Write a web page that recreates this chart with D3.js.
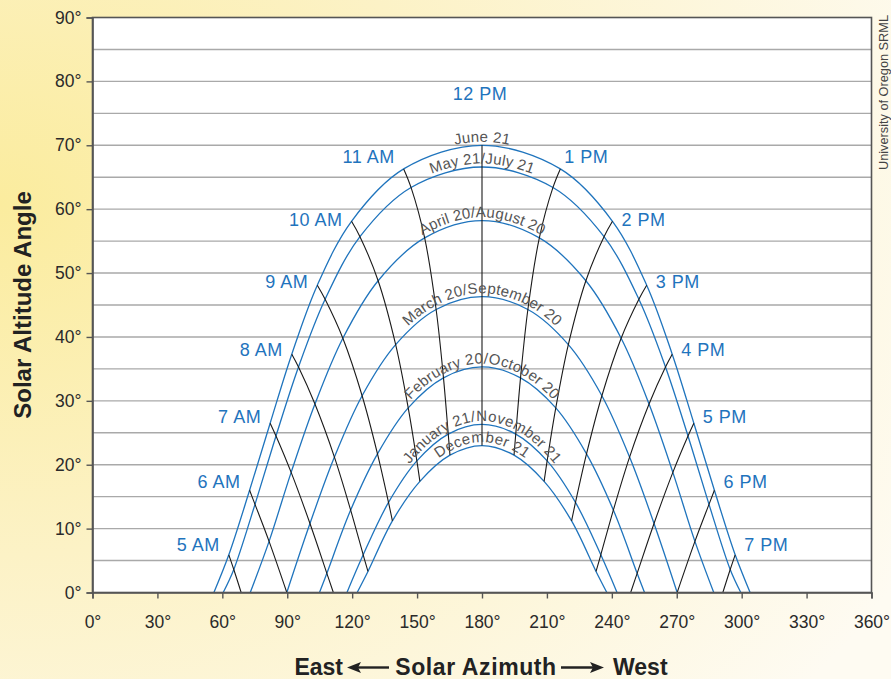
<!DOCTYPE html>
<html><head><meta charset="utf-8">
<script src="https://cdn.jsdelivr.net/npm/d3@7"></script>
<style>html,body{margin:0;padding:0;background:#fdf8e6;} svg{display:block;}</style>
</head><body>
<svg id="chart" width="891" height="679"></svg>
<script>
// ---------------- data ----------------
const altitudeTicks = [0, 10, 20, 30, 40, 50, 60, 70, 80, 90];
const altitudeGrid = [5, 10, 15, 20, 25, 30, 35, 40, 45, 50, 55, 60, 65, 70, 75, 80, 85];
const azimuthTicks = [0, 30, 60, 90, 120, 150, 180, 210, 240, 270, 300, 330, 360];

const dateLabels = ["June 21", "May 21/July 21", "April 20/August 20", "March 20/September 20",
                    "February 20/October 20", "January 21/November 21", "December 21"];

// each point: [solar time (h), azimuth (deg), altitude (deg)]
const june21 = [[4.4,56.1,0],[5,63.0,5.9],[6,72.6,16.0],[7,82.1,26.5],[8,92.1,37.3],[9,103.9,48.1],[10,119.7,58.1],[11,143.8,66.3],[12,180,70.0],[13,216.2,66.3],[14,240.3,58.1],[15,256.1,48.1],[16,267.9,37.3],[17,277.9,26.5],[18,287.4,16.0],[19,297.0,5.9],[19.6,303.9,0]];
const mayJuly21 = [[4.6,60.4,0],[5,65.3,3.6],[6,75.1,13.8],[7,84.8,24.5],[8,95.2,35.3],[9,107.5,45.9],[10,123.6,55.7],[11,147.2,63.4],[12,180,66.6],[13,212.8,63.4],[14,236.4,55.7],[15,252.5,45.9],[16,264.8,35.3],[17,275.2,24.5],[18,284.9,13.8],[19,294.7,3.6],[19.4,299.6,0]];
const aprilAug20 = [[5.2,72.9,0],[6,81.6,8.0],[7,91.8,18.8],[8,102.8,29.5],[9,115.7,39.8],[10,132.0,48.8],[11,153.5,55.5],[12,180,58.2],[13,206.5,55.5],[14,228.0,48.8],[15,244.3,39.8],[16,257.2,29.5],[17,268.2,18.8],[18,278.4,8.0],[18.8,287.1,0]];
const marchSep20 = [[6,89.8,0],[7,100.5,10.8],[8,111.8,21.2],[9,124.6,30.8],[10,140.1,38.8],[11,158.8,44.3],[12,180,46.3],[13,201.2,44.3],[14,219.9,38.8],[15,235.4,30.8],[16,248.2,21.2],[17,259.5,10.8],[18,270.2,0]];
const febOct20 = [[6.7,104.9,0],[7,108.3,3.0],[8,119.3,12.9],[9,131.7,21.7],[10,145.9,28.9],[11,162.2,33.6],[12,180,35.3],[13,197.8,33.6],[14,214.1,28.9],[15,228.3,21.7],[16,240.7,12.9],[17,251.7,3.0],[17.3,255.1,0]];
const janNov21 = [[7.4,117.6,0],[8,125.1,5.9],[9,136.8,14.1],[10,149.9,20.6],[11,164.4,24.8],[12,180,26.3],[13,195.6,24.8],[14,210.1,20.6],[15,223.2,14.1],[16,234.9,5.9],[16.6,242.4,0]];
const dec21 = [[7.6,122.3,0],[8,127.3,3.3],[9,138.6,11.2],[10,151.3,17.4],[11,165.2,21.5],[12,180,23.0],[13,194.8,21.5],[14,208.7,17.4],[15,221.4,11.2],[16,232.7,3.3],[16.4,237.7,0]];

const dateSeries = [june21, mayJuly21, aprilAug20, marchSep20, febOct20, janNov21, dec21];

const hours = [5, 6, 7, 8, 9, 10, 11, 12, 13, 14, 15, 16, 17, 18, 19];
const hourLabels = ["5 AM","6 AM","7 AM","8 AM","9 AM","10 AM","11 AM","12 PM","1 PM","2 PM","3 PM","4 PM","5 PM","6 PM","7 PM"];
// where an hour line meets the horizon between two date curves
const hourHorizon = [[5,68.7,0],[7,111.3,0],[17,248.7,0],[19,291.3,0]];

// ---------------- drawing ----------------
const W = 891, H = 679;
const svg = d3.select("#chart");
const FONT = "'Liberation Sans', Arial, Helvetica, sans-serif";
const BLUE = "#1f74bd";

const x = d3.scaleLinear().domain([0, 360]).range([92.5, 871.5]);
const y = d3.scaleLinear().domain([0, 90]).range([592.5, 17.5]);

const defs = svg.append("defs");
const bg = defs.append("radialGradient").attr("id", "bg")
  .attr("cx", 0.0).attr("cy", 0.3).attr("r", 1.15);
bg.append("stop").attr("offset", "0%").attr("stop-color", "#fbec9e");
bg.append("stop").attr("offset", "45%").attr("stop-color", "#fcf2c6");
bg.append("stop").attr("offset", "100%").attr("stop-color", "#fefbf2");

svg.append("rect").attr("width", W).attr("height", H).attr("fill", "url(#bg)");

// plot area
svg.append("rect")
  .attr("x", x(0)).attr("y", y(90))
  .attr("width", x(360) - x(0)).attr("height", y(0) - y(90))
  .attr("fill", "#ffffff");

// grid
svg.append("g").selectAll("line").data(altitudeGrid).join("line")
  .attr("x1", x(0)).attr("x2", x(360))
  .attr("y1", d => y(d)).attr("y2", d => y(d))
  .attr("stroke", "#a9a9a9").attr("stroke-width", 1.4);

const line = d3.line()
  .x(d => x(d[1])).y(d => y(d[2]))
  .curve(d3.curveCatmullRom.alpha(0.5));

// date curves
svg.append("g").selectAll("path").data(dateSeries).join("path")
  .attr("id", (d, i) => "date-" + i)
  .attr("d", line)
  .attr("fill", "none")
  .attr("stroke", BLUE).attr("stroke-width", 1.3);

// hour lines
const hourLines = hours.map(h => {
  const pts = dateSeries.map(s => s.find(p => p[0] === h)).filter(Boolean);
  const hz = hourHorizon.find(p => p[0] === h);
  if (hz) pts.push(hz);
  return { h, pts };
});
svg.append("g").selectAll("path").data(hourLines).join("path")
  .attr("d", d => line(d.pts))
  .attr("fill", "none")
  .attr("stroke", "#1a1a1a").attr("stroke-width", 1.1);

// date labels on curves
svg.append("g").selectAll("text").data(dateLabels).join("text")
  .attr("dy", -3.5)
  .attr("font-family", FONT).attr("font-size", 15)
  .attr("fill", "#555")
  .append("textPath")
  .attr("href", (d, i) => "#date-" + i)
  .attr("startOffset", "50%")
  .attr("text-anchor", "middle")
  .text(d => d);

// hour labels
svg.append("g").selectAll("text").data(hourLines).join("text")
  .attr("font-family", FONT).attr("font-size", 18).attr("letter-spacing", 0.5)
  .attr("fill", BLUE)
  .attr("x", d => {
    const p = d.pts[0];
    if (d.h === 12) return x(p[1]) - 2;
    if (d.h < 12) return x(p[1]) - 9;
    return x(p[1]) + (d.h === 13 ? 4 : 9);
  })
  .attr("y", d => {
    const p = d.pts[0];
    if (d.h === 12) return y(p[2]) - 45;
    if (d.h === 11 || d.h === 13) return y(p[2]) - 6;
    return y(p[2]) - 5 + p[2] * 0.17;
  })
  .attr("text-anchor", d => d.h === 12 ? "middle" : (d.h < 12 ? "end" : "start"))
  .text(d => hourLabels[hours.indexOf(d.h)]);

// axes
const yAxis = d3.axisLeft(y).tickValues(altitudeTicks).tickFormat(d => d + "°")
  .tickSize(6).tickPadding(5);
const gy = svg.append("g").attr("transform", `translate(${x(0)},0)`).call(yAxis);
const xAxis = d3.axisBottom(x).tickValues(azimuthTicks).tickFormat(d => d + "°")
  .tickSize(6).tickPadding(17);
const gx = svg.append("g").attr("transform", `translate(0,${y(0)})`).call(xAxis);
[gx, gy].forEach(g => {
  g.selectAll("path.domain").attr("stroke", "#555").attr("stroke-width", 1.6);
  g.selectAll(".tick line").attr("stroke", "#555").attr("stroke-width", 1.4);
  g.selectAll(".tick text").attr("font-family", FONT).attr("font-size", 17.5).attr("fill", "#2a2a2a");
});

// frame
svg.append("rect")
  .attr("x", x(0)).attr("y", y(90))
  .attr("width", x(360) - x(0)).attr("height", y(0) - y(90))
  .attr("fill", "none").attr("stroke", "#555").attr("stroke-width", 1.6);

// y title
svg.append("text")
  .attr("transform", `translate(31,${(y(0) + y(90)) / 2}) rotate(-90)`)
  .attr("text-anchor", "middle")
  .attr("font-family", FONT).attr("font-weight", "bold").attr("font-size", 24)
  .attr("fill", "#222")
  .text("Solar Altitude Angle");

// x title with arrows
const tY = 675;
const xt = svg.append("g").attr("font-family", FONT).attr("font-weight", "bold")
  .attr("font-size", 23).attr("fill", "#222");
xt.append("text").attr("x", 343).attr("y", tY).attr("text-anchor", "end").text("East");
xt.append("text").attr("x", 476).attr("y", tY).attr("text-anchor", "middle")
  .attr("letter-spacing", 0.6).text("Solar Azimuth");
xt.append("text").attr("x", 613).attr("y", tY).attr("text-anchor", "start").text("West");
const ay = 667.5;
xt.append("line").attr("x1", 357).attr("x2", 389).attr("y1", ay).attr("y2", ay)
  .attr("stroke", "#222").attr("stroke-width", 2.4);
xt.append("path").attr("d", `M347,${ay} L361,${ay - 5.5} L358,${ay} L361,${ay + 5.5} Z`).attr("fill", "#222");
xt.append("line").attr("x1", 561).attr("x2", 594).attr("y1", ay).attr("y2", ay)
  .attr("stroke", "#222").attr("stroke-width", 2.4);
xt.append("path").attr("d", `M604,${ay} L590,${ay - 5.5} L593,${ay} L590,${ay + 5.5} Z`).attr("fill", "#222");

// credit
svg.append("text")
  .attr("transform", "translate(888,170) rotate(-90)")
  .attr("font-family", "'Liberation Sans Narrow', 'Liberation Sans', Arial, sans-serif")
  .attr("font-size", 13).attr("fill", "#444")
  .attr("textLength", 155).attr("lengthAdjust", "spacingAndGlyphs")
  .text("University of Oregon SRML");
</script>
</body></html>
